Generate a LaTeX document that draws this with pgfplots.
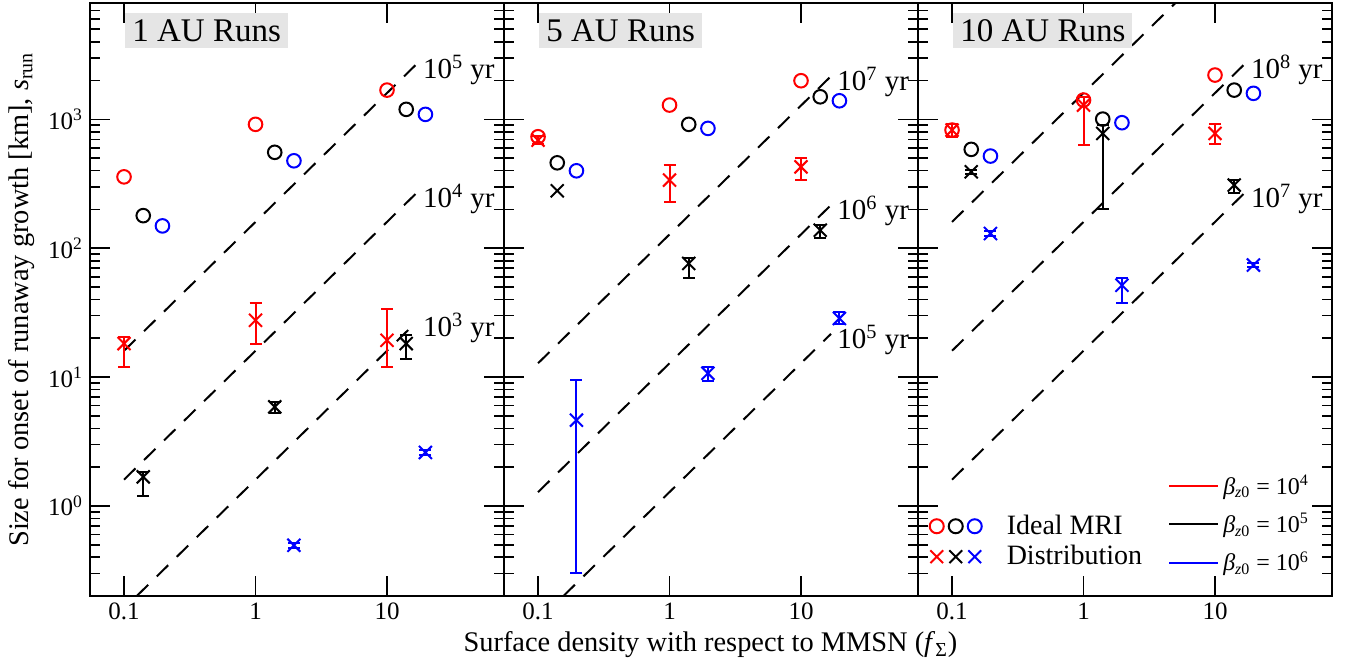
\documentclass[border=0pt]{standalone}
\usepackage{fontspec}
\setmainfont{Liberation Serif}
\usepackage{pgfplots}
\pgfplotsset{compat=1.18}
\tikzset{
  circ/.style={mark=o, mark size=3.4pt, line width=1pt},
  crsm/.style={mark=x, mark size=4.6pt, line width=1pt},
  tline/.style={black, line width=1pt, dash pattern=on 8pt off 6pt},
  tlab/.style={anchor=west, font=\fontsize{14.5}{16}\selectfont, xshift=1pt, yshift=-3pt, inner sep=2pt},
  ttl/.style={anchor=north west, fill=black!10, font=\fontsize{16.5}{18}\selectfont,
    inner xsep=3.5pt, inner ysep=3pt, text height=11pt, text depth=0.5pt, xshift=17.5pt, yshift=-5pt}
}
\begin{document}
\begin{tikzpicture}
% ---------------- 1 AU
\begin{axis}[xmode=log, ymode=log, scale only axis, width=207pt, height=296.5pt,
    xmin=0.0551, xmax=77.6, ymin=0.2, ymax=8000,
    xtick={0.1,1,10}, xticklabels={0.1,1,10}, xminorticks=false,
    ytick={1,10,100,1000},
    minor ytick={0.3,0.4,0.5,0.6,0.7,0.8,0.9,2,3,4,5,6,7,8,9,20,30,40,50,60,70,80,90,200,300,400,500,600,700,800,900,2000,3000,4000,5000,6000,7000},
    major tick length=10pt, minor tick length=5pt, tick align=inside,
    tick style={black, line width=0.8pt}, axis line style={line width=1.2pt},
    tick label style={font=\fontsize{12.5}{14}\selectfont}, clip=false,
    at={(0pt,0pt)}, anchor=south west,
  yticklabels={10\textsuperscript{0},10\textsuperscript{1},10\textsuperscript{2},10\textsuperscript{3}}]
\addplot[tline] coordinates {(0.1,16) (16.8,2688)};
\addplot[tline] coordinates {(0.1,1.6) (16.8,268.8)};
\addplot[tline] coordinates {(0.125,0.2) (16.8,26.88)};
\addplot[only marks,circ,red] coordinates {(0.1,358) (1,915) (10,1687)};
\addplot[only marks,circ,black] coordinates {(0.14,179) (1.4,555) (14,1196)};
\addplot[only marks,circ,blue] coordinates {(0.196,149) (1.96,477) (19.6,1093)};
\addplot[only marks,crsm,red,error bars/.cd, y dir=both, y explicit, error bar style={line width=1pt}, error mark options={rotate=90, mark size=3pt, line width=1pt}] coordinates {(0.1,18.2) += (0,2.2) -= (0,6.2) (1,27.6) += (0,10) -= (0,9.4) (10,19.3) += (0,14.7) -= (0,7.3)};
\addplot[only marks,crsm,black,error bars/.cd, y dir=both, y explicit, error bar style={line width=1pt}, error mark options={rotate=90, mark size=3pt, line width=1pt}] coordinates {(0.14,1.68) += (0,0.16) -= (0,0.48) (1.4,5.87) += (0,0.5) -= (0,0.6) (14,18.2) += (0,2.9) -= (0,4.3)};
\addplot[only marks,crsm,blue,error bars/.cd, y dir=both, y explicit, error bar style={line width=1pt}, error mark options={rotate=90, mark size=3pt, line width=1pt}] coordinates {(1.96,0.495) += (0,0.02) -= (0,0.02) (19.6,2.6) += (0,0.1) -= (0,0.1)};
\node[tlab] at (axis cs:16.8,2688) {10\textsuperscript{5} yr};
\node[tlab] at (axis cs:16.8,268.8) {10\textsuperscript{4} yr};
\node[tlab] at (axis cs:16.8,26.88) {10\textsuperscript{3} yr};
\node[ttl] at (rel axis cs:0,1) {1 AU Runs};
\end{axis}
% ---------------- 5 AU
\begin{axis}[xmode=log, ymode=log, scale only axis, width=207pt, height=296.5pt,
    xmin=0.0551, xmax=77.6, ymin=0.2, ymax=8000,
    xtick={0.1,1,10}, xticklabels={0.1,1,10}, xminorticks=false,
    ytick={1,10,100,1000}, yticklabels={},
    minor ytick={0.3,0.4,0.5,0.6,0.7,0.8,0.9,2,3,4,5,6,7,8,9,20,30,40,50,60,70,80,90,200,300,400,500,600,700,800,900,2000,3000,4000,5000,6000,7000},
    major tick length=10pt, minor tick length=5pt, tick align=inside,
    tick style={black, line width=0.8pt}, axis line style={line width=1.2pt},
    tick label style={font=\fontsize{12.5}{14}\selectfont}, clip=false,
    at={(207pt,0pt)}, anchor=south west]
\addplot[tline] coordinates {(0.1,12.8) (16.9,2163)};
\addplot[tline] coordinates {(0.1,1.28) (16.9,216.3)};
\addplot[tline] coordinates {(0.156,0.2) (16.9,21.63)};
\addplot[only marks,circ,red] coordinates {(0.1,733) (1,1291) (10,1995)};
\addplot[only marks,circ,black] coordinates {(0.14,460) (1.4,915) (14,1497)};
\addplot[only marks,circ,blue] coordinates {(0.196,399) (1.96,851) (19.6,1394)};
\addplot[only marks,crsm,red,error bars/.cd, y dir=both, y explicit, error bar style={line width=1pt}, error mark options={rotate=90, mark size=3pt, line width=1pt}] coordinates {(0.1,690) += (0,50) -= (0,50) (1,338) += (0,103) -= (0,109) (10,428) += (0,70) -= (0,90)};
\addplot[only marks,crsm,black] coordinates {(0.14,279)};
\addplot[only marks,crsm,black,error bars/.cd, y dir=both, y explicit, error bar style={line width=1pt}, error mark options={rotate=90, mark size=3pt, line width=1pt}] coordinates {(1.4,76.2) += (0,8.2) -= (0,17.8) (14,138) += (0,13) -= (0,17)};
\addplot[only marks,crsm,blue,error bars/.cd, y dir=both, y explicit, error bar style={line width=1pt}, error mark options={rotate=90, mark size=3pt, line width=1pt}] coordinates {(0.196,4.63) += (0,4.92) -= (0,4.33) (1.96,10.7) += (0,1.2) -= (0,1.3) (19.6,28.5) += (0,3.5) -= (0,2.5)};
\node[tlab] at (axis cs:16.9,2163) {10\textsuperscript{7} yr};
\node[tlab] at (axis cs:16.9,216.3) {10\textsuperscript{6} yr};
\node[tlab] at (axis cs:16.9,21.63) {10\textsuperscript{5} yr};
\node[ttl] at (rel axis cs:0,1) {5 AU Runs};
\end{axis}
% ---------------- 10 AU
\begin{axis}[xmode=log, ymode=log, scale only axis, width=207pt, height=296.5pt,
    xmin=0.0551, xmax=77.6, ymin=0.2, ymax=8000,
    xtick={0.1,1,10}, xticklabels={0.1,1,10}, xminorticks=false,
    ytick={1,10,100,1000}, yticklabels={},
    minor ytick={0.3,0.4,0.5,0.6,0.7,0.8,0.9,2,3,4,5,6,7,8,9,20,30,40,50,60,70,80,90,200,300,400,500,600,700,800,900,2000,3000,4000,5000,6000,7000},
    major tick length=10pt, minor tick length=5pt, tick align=inside,
    tick style={black, line width=0.8pt}, axis line style={line width=1.2pt},
    tick label style={font=\fontsize{12.5}{14}\selectfont}, clip=false,
    at={(414pt,0pt)}, anchor=south west,
  legend style={draw=none, fill=none, at={(axis description cs:0.025,0.04)}, anchor=south west,
    font=\fontsize{14}{16}\selectfont, row sep=0pt, inner sep=0pt}, legend cell align=left]
\addlegendimage{legend image code/.code={
  \draw[red,line width=1pt] (0pt,0pt) circle (3.5pt);
  \draw[black,line width=1pt] (9.5pt,0pt) circle (3.5pt);
  \draw[blue,line width=1pt] (19pt,0pt) circle (3.5pt);
  \path[draw=none,fill=none] (-3.5pt,0pt) -- (33pt,0pt);}}
\addlegendentry{Ideal MRI}
\addlegendimage{legend image code/.code={
  \draw[red,line width=1pt] (-3.2pt,-3.2pt) -- (3.2pt,3.2pt) (-3.2pt,3.2pt) -- (3.2pt,-3.2pt);
  \draw[black,line width=1pt] (6.3pt,-3.2pt) -- (12.7pt,3.2pt) (6.3pt,3.2pt) -- (12.7pt,-3.2pt);
  \draw[blue,line width=1pt] (15.8pt,-3.2pt) -- (22.2pt,3.2pt) (15.8pt,3.2pt) -- (22.2pt,-3.2pt);
  \path[draw=none,fill=none] (-3.5pt,0pt) -- (33pt,0pt);}}
\addlegendentry{Distribution}
\addplot[tline] coordinates {(0.1,160) (5,8000)};
\addplot[tline] coordinates {(0.1,16) (16.8,2688)};
\addplot[tline] coordinates {(0.1,1.6) (16.8,268.8)};
\addplot[only marks,circ,red] coordinates {(0.1,826) (1,1412) (10,2208)};
\addplot[only marks,circ,black] coordinates {(0.14,585) (1.4,1005) (14,1687)};
\addplot[only marks,circ,blue] coordinates {(0.196,519) (1.96,942) (19.6,1592)};
\addplot[only marks,crsm,red,error bars/.cd, y dir=both, y explicit, error bar style={line width=1pt}, error mark options={rotate=90, mark size=3pt, line width=1pt}] coordinates {(0.1,826) += (0,93) -= (0,93) (1,1291) += (0,206) -= (0,659) (10,778) += (0,141) -= (0,135)};
\addplot[only marks,crsm,black,error bars/.cd, y dir=both, y explicit, error bar style={line width=1pt}, error mark options={rotate=90, mark size=3pt, line width=1pt}] coordinates {(0.14,392) += (0,15) -= (0,15) (1.4,778) += (0,125) -= (0,578) (14,309) += (0,29) -= (0,40)};
\addplot[only marks,crsm,blue,error bars/.cd, y dir=both, y explicit, error bar style={line width=1pt}, error mark options={rotate=90, mark size=3pt, line width=1pt}] coordinates {(0.196,130) += (0,5) -= (0,5) (1.96,51.6) += (0,6.8) -= (0,13.7) (19.6,74) += (0,3) -= (0,2)};
\node[tlab] at (axis cs:16.8,2688) {10\textsuperscript{8} yr};
\node[tlab] at (axis cs:16.8,268.8) {10\textsuperscript{7} yr};
\node[ttl] at (rel axis cs:0,1) {10 AU Runs};
\end{axis}
\begin{axis}[scale only axis, width=207pt, height=296.5pt, at={(414pt,0pt)}, anchor=south west,
  hide axis, xmin=0, xmax=1, ymin=0, ymax=1,
  legend style={draw=none, fill=none, at={(axis description cs:0.955,0.03)}, anchor=south east,
    font=\fontsize{12}{14}\selectfont, row sep=4pt, inner sep=0pt}, legend cell align=left]
\addlegendimage{legend image code/.code={\draw[red,line width=1pt] (0pt,0pt) -- (24.5pt,0pt);}}
\addlegendentry{\textit{β}\textsubscript{\textit{z}0} = 10\textsuperscript{4}}
\addlegendimage{legend image code/.code={\draw[black,line width=1pt] (0pt,0pt) -- (24.5pt,0pt);}}
\addlegendentry{\textit{β}\textsubscript{\textit{z}0} = 10\textsuperscript{5}}
\addlegendimage{legend image code/.code={\draw[blue,line width=1pt] (0pt,0pt) -- (24.5pt,0pt);}}
\addlegendentry{\textit{β}\textsubscript{\textit{z}0} = 10\textsuperscript{6}}
\end{axis}
\node[anchor=base, rotate=90, font=\fontsize{14.2}{16}\selectfont] at (-31pt,148.25pt)
  {Size for onset of runaway growth [km], \textit{s}\textsubscript{run}};
\node[anchor=base, font=\fontsize{14.2}{16}\selectfont] at (310.25pt,-27.85pt)
  {Surface density with respect to MMSN (\textit{f}\textsubscript{Σ})};
\pgfresetboundingbox
\path[use as bounding box] (-45pt,-34pt) rectangle (630.5pt,298pt);
\end{tikzpicture}
\end{document}
